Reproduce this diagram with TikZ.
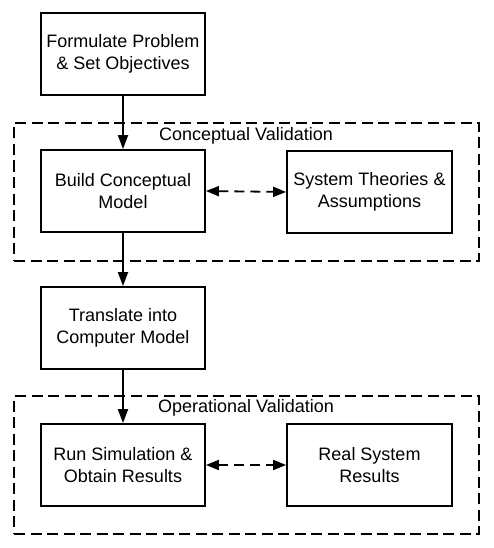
\documentclass[tikz,border=0pt]{standalone}
\usepackage{fontspec}
\setmainfont{Liberation Sans}
\usetikzlibrary{arrows.meta}
\begin{document}
\begin{tikzpicture}[x=1pt,y=-1pt,
  box/.style={draw,line width=1.8pt,minimum width=164pt,minimum height=82pt,align=center,inner sep=0pt,
    font=\fontsize{18}{21.7}\selectfont},
  group/.style={draw,line width=1.8pt,dash pattern=on 11pt off 5.5pt,minimum width=465pt,minimum height=138pt,inner sep=0pt},
  glabel/.style={font=\fontsize{18}{21.7}\selectfont,inner sep=0pt},
  tip/.style={},
  flow/.style={line width=1.8pt,-{Triangle[length=14pt,width=10pt]}},
  link/.style={line width=1.8pt,dash pattern=on 10pt off 6pt,{Triangle[length=13pt,width=10pt]}-{Triangle[length=13pt,width=10pt]}}]
\useasboundingbox (0,0) rectangle (493,548);
\fill[white] (0,0) rectangle (493,548);
\node[group] (g1) at (246.5,192) {};
\node[group] (g2) at (246.5,465) {};
\node[glabel] (l1) at (246,136) {Conceptual Validation};
\node[glabel] (l2) at (246,408) {Operational Validation};
\node[box] (b1) at (123,54) {Formulate Problem\\\& Set Objectives};
\node[box] (b2) at (123,191) {Build Conceptual\\Model};
\node[box,minimum width=165pt] (b3) at (369.5,192) {System Theories \&\\Assumptions};
\node[box] (b4) at (123,328) {Translate into\\Computer Model};
\node[box] (b5) at (123,465) {Run Simulation \&\\Obtain Results};
\node[box,minimum width=165pt] (b6) at (369.5,465) {Real System\\Results};
\draw[flow] (b1) -- (b2);
\draw[flow] (b2) -- (b4);
\draw[flow] (b4) -- (b5);
\draw[link] (b2.east) -- (b3.west);
\draw[link] (b5.east) -- (b6.west);
\end{tikzpicture}
\end{document}
